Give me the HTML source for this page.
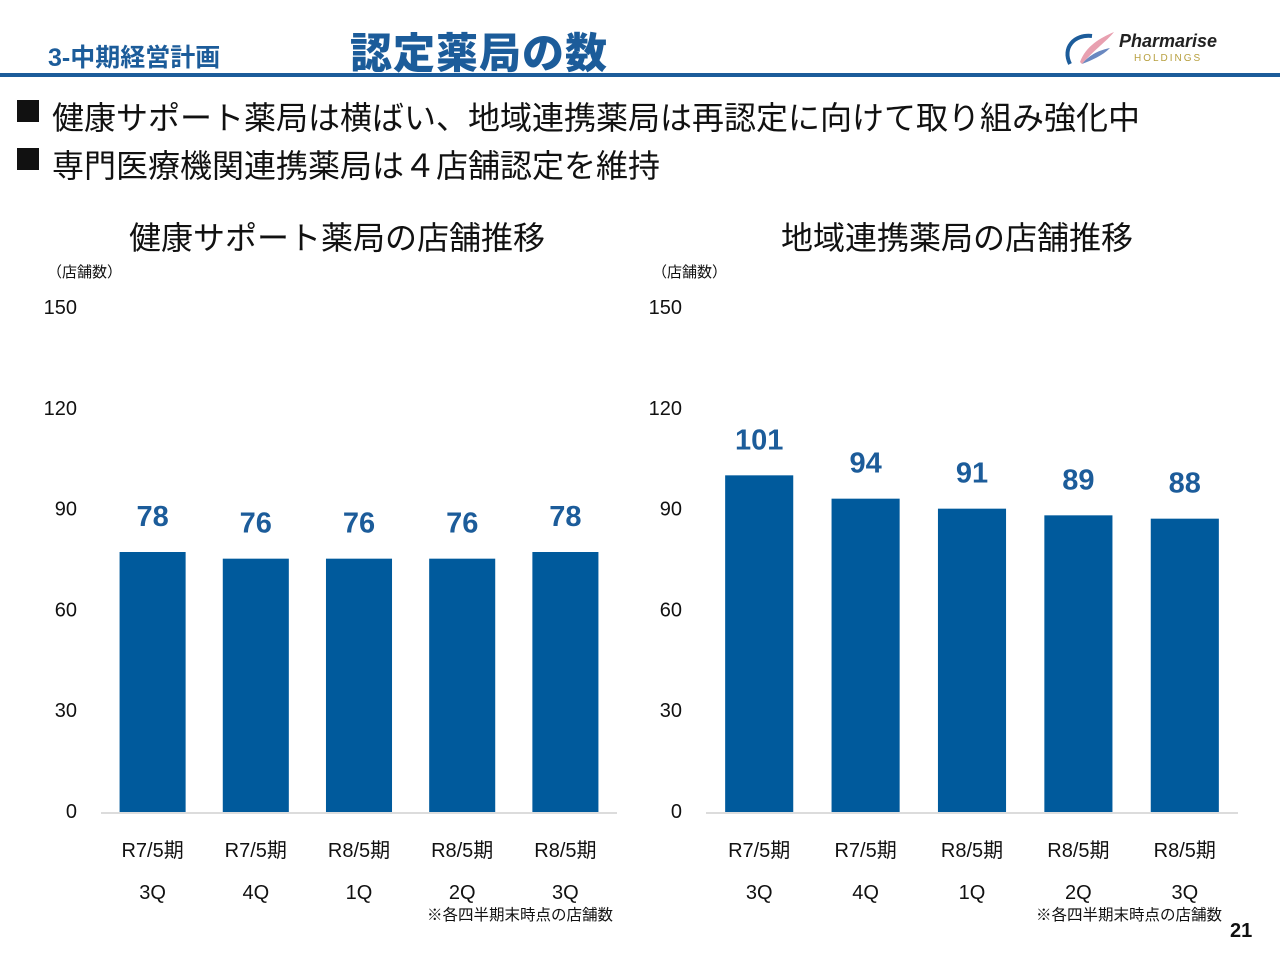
<!DOCTYPE html>
<html><head><meta charset="utf-8">
<style>
body{margin:0;width:1280px;height:960px;background:#fff;position:relative;overflow:hidden;font-family:"Liberation Sans","Noto Sans CJK JP",sans-serif;}
.abs{position:absolute;white-space:nowrap;}
</style></head><body>
<div class="abs" style="left:48px;top:38px;font-size:25px;font-weight:bold;color:#1c5c9a;">3-中期経営計画</div>
<div class="abs" style="left:350px;top:20px;font-size:42px;font-weight:900;color:#1c5c9a;letter-spacing:1px;">認定薬局の数</div>
<div class="abs" style="left:1060px;top:26px;width:170px;height:42px;">
<svg width="170" height="42"><path d="M10 38 C2 22,14 8,32 10" stroke="#1c5c9a" stroke-width="4" fill="none"/><path d="M20 36 C26 20,40 12,54 6 C46 16,36 22,22 38Z" fill="#e8a0b0"/><path d="M22 38 C30 28,40 24,50 22 C42 30,32 34,22 38Z" fill="#6a88c0"/></svg>
<div class="abs" style="left:59px;top:5px;font-size:18px;font-weight:bold;font-style:italic;color:#222;">Pharmarise</div>
<div class="abs" style="left:74px;top:27px;font-size:10px;letter-spacing:2px;color:#b8a040;">HOLDINGS</div>
</div>
<div class="abs" style="left:0;top:73px;width:1280px;height:4px;background:#1c5c9a;"></div>
<div class="abs" style="left:17px;top:100px;width:22px;height:22px;background:#111;"></div>
<div class="abs" style="left:52px;top:93px;font-size:32px;color:#111;">健康サポート薬局は横ばい、地域連携薬局は再認定に向けて取り組み強化中</div>
<div class="abs" style="left:17px;top:148px;width:22px;height:22px;background:#111;"></div>
<div class="abs" style="left:52px;top:141px;font-size:32px;color:#111;">専門医療機関連携薬局は４店舗認定を維持</div>
<svg id="c" width="1280" height="960" style="position:absolute;left:0;top:0"></svg>
<div class="abs" style="left:1230px;top:920px;font-size:20px;font-weight:bold;color:#111;">21</div>
<script>
const categoriesTop=["R7/5期","R7/5期","R8/5期","R8/5期","R8/5期"];
const categoriesBottom=["3Q","4Q","1Q","2Q","3Q"];
const healthValues=[78,76,76,76,78];
const regionalValues=[101,94,91,89,88];
const yTicks=[0,30,60,90,120,150];
const NS="http://www.w3.org/2000/svg";
const svg=document.getElementById('c');
function mk(tag,attrs,text){const e=document.createElementNS(NS,tag);for(const k in attrs)e.setAttribute(k,attrs[k]);if(text!==undefined)e.textContent=text;svg.appendChild(e);return e;}
function chart(x0,x1,title,titleX,values,prefix,noteRight){
  const yB=812,max=150;
  const y=v=>yB-(v/max)*(yB-312);
  const yl=v=>811-(v/max)*504;
  const t=mk('text',{x:titleX,y:249,'font-size':32,'text-anchor':'middle',fill:'#111'},title);
  
  const u=mk('text',{x:x0-54,y:277,'font-size':15,fill:'#111'},'（店舗数）');
  
  yTicks.forEach(v=>{const e=mk('text',{x:x0-24,y:yl(v)+7,'font-size':20,'text-anchor':'end',fill:'#111'},v);
    });
  const ax=mk('line',{x1:x0,x2:x1,y1:yB+1,y2:yB+1,stroke:'#d0d0d0','stroke-width':1.5});
  
  const step=(x1-x0)/values.length,bw=step*0.64;
  values.forEach((v,i)=>{const cx=x0+step*(i+0.5);
    const r=mk('rect',{x:cx-bw/2,y:y(v),width:bw,height:yB-y(v),fill:'#005a9c'});
    
    const l=mk('text',{x:cx,y:y(v)-26,'font-size':29,'font-weight':'bold','text-anchor':'middle',fill:'#1c5c9a'},v);
    
    const a=mk('text',{x:cx,y:857,'font-size':20,'text-anchor':'middle',fill:'#111'},categoriesTop[i]);
    
    const b=mk('text',{x:cx,y:899,'font-size':20,'text-anchor':'middle',fill:'#111'},categoriesBottom[i]);
    
  });
  const n=mk('text',{x:noteRight,y:920,'font-size':15.5,'text-anchor':'end',fill:'#111'},'※各四半期末時点の店舗数');
  
}
chart(101,617,'健康サポート薬局の店舗推移',337,healthValues,'health',613);
chart(706,1238,'地域連携薬局の店舗推移',957,regionalValues,'regional',1222);
</script>
</body></html>
